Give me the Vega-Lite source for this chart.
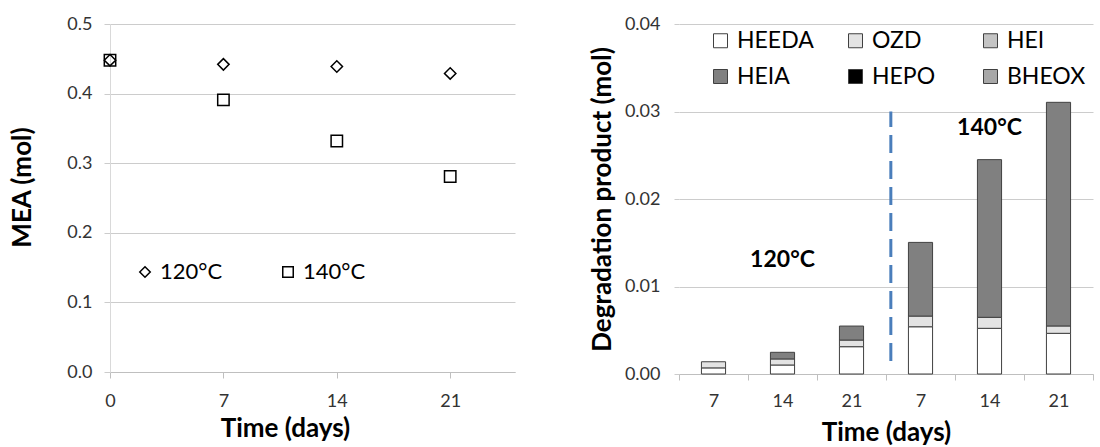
{
  "$schema": "https://vega.github.io/schema/vega-lite/v6.json",
  "padding": {"left": 9, "top": 15, "right": 0, "bottom": 0},
  "background": "white",
  "config": {
    "font": "Lato",
    "view": {"stroke": null},
    "axis": {
      "labelFont": "Lato",
      "labelFontSize": 18,
      "labelColor": "#333333",
      "titleFont": "Lato",
      "titleFontSize": 26,
      "titleFontWeight": "bold",
      "titleColor": "#000000",
      "gridColor": "#cccccc",
      "gridWidth": 1,
      "domainColor": "#bfbfbf",
      "tickColor": "#bfbfbf"
    },
    "legend": {"labelFont": "Lato", "labelColor": "#000000", "padding": 0}
  },
  "datasets": {
    "mea": [
      {"day": 0, "temp": "120°C", "mea": 0.448},
      {"day": 7, "temp": "120°C", "mea": 0.442},
      {"day": 14, "temp": "120°C", "mea": 0.439},
      {"day": 21, "temp": "120°C", "mea": 0.429},
      {"day": 0, "temp": "140°C", "mea": 0.448},
      {"day": 7, "temp": "140°C", "mea": 0.391},
      {"day": 14, "temp": "140°C", "mea": 0.332},
      {"day": 21, "temp": "140°C", "mea": 0.281}
    ],
    "deg": [
      {"cond": "120-7", "product": "HEEDA", "value": 0.0007},
      {"cond": "120-7", "product": "OZD", "value": 0.0007},
      {"cond": "120-14", "product": "HEEDA", "value": 0.00103},
      {"cond": "120-14", "product": "OZD", "value": 0.00069},
      {"cond": "120-14", "product": "HEIA", "value": 0.00076},
      {"cond": "120-21", "product": "HEEDA", "value": 0.00312},
      {"cond": "120-21", "product": "OZD", "value": 0.00076},
      {"cond": "120-21", "product": "HEIA", "value": 0.0016},
      {"cond": "140-7", "product": "HEEDA", "value": 0.0054},
      {"cond": "140-7", "product": "OZD", "value": 0.00122},
      {"cond": "140-7", "product": "HEIA", "value": 0.00842},
      {"cond": "140-14", "product": "HEEDA", "value": 0.00522},
      {"cond": "140-14", "product": "OZD", "value": 0.00126},
      {"cond": "140-14", "product": "HEIA", "value": 0.01802},
      {"cond": "140-21", "product": "HEEDA", "value": 0.00465},
      {"cond": "140-21", "product": "OZD", "value": 0.00084},
      {"cond": "140-21", "product": "HEIA", "value": 0.02556}
    ],
    "sep": [{"cond": "140-7", "y1": 0.0015, "y2": 0.03}],
    "labels": [
      {"cond": "120-14", "y": 0.013, "label": "120°C"},
      {"cond": "140-14", "y": 0.0281, "label": "140°C"}
    ]
  },
  "spacing": 74,
  "resolve": {
    "scale": {"color": "independent", "shape": "independent", "x": "independent", "y": "independent"},
    "legend": {"color": "independent", "shape": "independent"}
  },
  "hconcat": [
    {
      "width": 405,
      "height": 348,
      "data": {"name": "mea"},
      "mark": {"type": "point", "filled": false, "stroke": "#000000", "strokeWidth": 1.5, "size": 130, "opacity": 1},
      "encoding": {
        "x": {
          "field": "day", "type": "quantitative",
          "scale": {"domain": [0, 25], "nice": false, "zero": true},
          "axis": {"values": [0, 7, 14, 21], "title": "Time (days)", "grid": false, "tickSize": 6, "labelFlush": false, "labelPadding": 14, "titlePadding": 5, "titleX": 175}
        },
        "y": {
          "field": "mea", "type": "quantitative",
          "scale": {"domain": [0, 0.5], "nice": false},
          "axis": {"values": [0, 0.1, 0.2, 0.3, 0.4, 0.5], "format": ".1f", "title": "MEA (mol)", "grid": true, "tickSize": 6, "tickColor": "#cccccc", "domainColor": "#d9d9d9", "labelPadding": 12, "titlePadding": 31, "titleY": 163}
        },
        "shape": {
          "field": "temp", "type": "nominal",
          "scale": {"domain": ["120°C", "140°C"], "range": ["diamond", "square"]},
          "legend": {"orient": "none", "legendX": 24, "legendY": 237, "direction": "horizontal", "title": null, "labelFontSize": 22, "symbolSize": 110, "symbolStrokeColor": "#000000", "symbolStrokeWidth": 1.5, "symbolFillColor": "transparent", "columnPadding": 54, "labelOffset": 4}
        }
      }
    },
    {
      "width": 414,
      "height": 350,
      "layer": [
        {
          "data": {"name": "deg"},
          "transform": [
            {"calculate": "indexof(['HEEDA','OZD','HEI','HEIA','HEPO','BHEOX'], datum.product)", "as": "stackOrder"}
          ],
          "mark": {"type": "bar", "width": {"band": 0.35}, "stroke": "#404040", "strokeWidth": 1},
          "encoding": {
            "x": {
              "field": "cond", "type": "nominal",
              "scale": {"domain": ["120-7", "120-14", "120-21", "140-7", "140-14", "140-21"], "paddingInner": 0, "paddingOuter": 0},
              "axis": {"title": "Time (days)", "labelAngle": 0, "labelExpr": "split(datum.value, '-')[1]", "tickBand": "extent", "tickSize": 6, "labelPadding": 12, "titlePadding": 9, "grid": false}
            },
            "y": {
              "field": "value", "type": "quantitative", "stack": "zero",
              "scale": {"domain": [0, 0.04], "nice": false},
              "axis": {"values": [0, 0.01, 0.02, 0.03, 0.04], "format": ".2f", "title": "Degradation product (mol)", "grid": true, "domain": false, "tickSize": 5, "tickColor": "#cccccc", "labelPadding": 14, "titlePadding": 9}
            },
            "order": {"field": "stackOrder", "type": "quantitative", "sort": "ascending"},
            "color": {
              "field": "product", "type": "nominal",
              "sort": ["HEEDA", "OZD", "HEI", "HEIA", "HEPO", "BHEOX"],
              "scale": {"domain": ["HEEDA", "OZD", "HEI", "HEIA", "HEPO", "BHEOX"], "range": ["#ffffff", "#e3e3e3", "#c4c4c4", "#808080", "#000000", "#a8a8a8"]},
              "legend": {"orient": "none", "legendX": 30, "legendY": 5, "columns": 3, "direction": "horizontal", "title": null, "symbolType": "square", "symbolSize": 196, "symbolStrokeColor": "#404040", "symbolStrokeWidth": 1, "labelFontSize": 23, "gridAlign": "all", "columnPadding": 28, "rowPadding": 12, "labelOffset": 5}
            }
          }
        },
        {
          "data": {"name": "sep"},
          "mark": {"type": "rule", "color": "#4a7ebb", "strokeWidth": 3, "strokeDash": [18, 8]},
          "encoding": {
            "x": {"field": "cond", "type": "nominal", "bandPosition": 0.07},
            "y": {"field": "y1", "type": "quantitative"},
            "y2": {"field": "y2"}
          }
        },
        {
          "data": {"name": "labels"},
          "mark": {"type": "text", "fontSize": 23, "fontWeight": "bold", "font": "Lato", "color": "#000000"},
          "encoding": {
            "x": {"field": "cond", "type": "nominal"},
            "y": {"field": "y", "type": "quantitative"},
            "text": {"field": "label"}
          }
        }
      ]
    }
  ]
}
